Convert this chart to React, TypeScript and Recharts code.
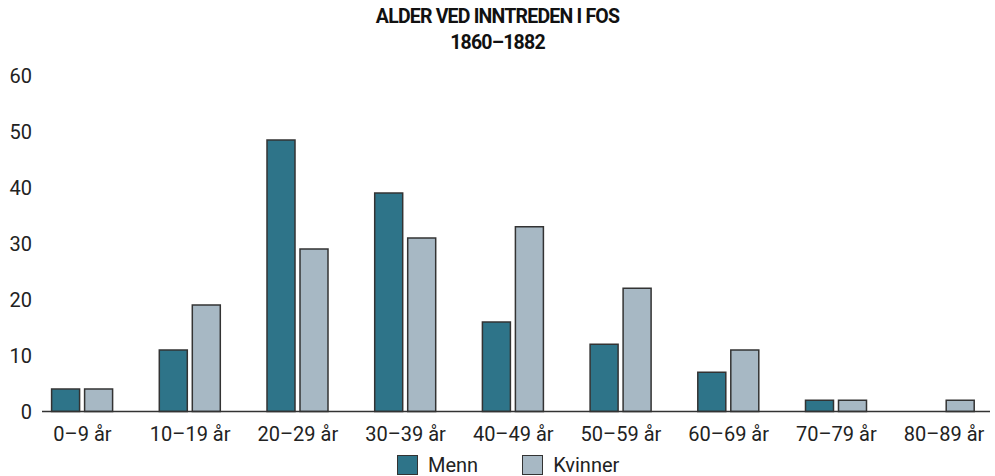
import { BarChart, Bar, XAxis, YAxis } from 'recharts';

const ageGroups = ['0–9 år', '10–19 år', '20–29 år', '30–39 år', '40–49 år', '50–59 år', '60–69 år', '70–79 år', '80–89 år'];
const menn = [4, 11, 48.5, 39, 16, 12, 7, 2, 0];
const kvinner = [4, 19, 29, 31, 33, 22, 11, 2, 2];
const yTicks = [0, 10, 20, 30, 40, 50, 60];

const MENN_COLOR = '#2e7489';
const KVINNER_COLOR = '#a7b8c4';
const STROKE = '#333333';
const FONT = 'Roboto, "Liberation Sans", sans-serif';

const data = ageGroups.map((group, i) => ({
  group,
  Menn: menn[i],
  Kvinner: kvinner[i]
}));

const LegendItem = ({ color, label, gap }: { color: string; label: string; gap: number }) => (
  <div style={{ display: 'flex', alignItems: 'center', marginRight: gap }}>
    <div
      style={{
        width: 21,
        height: 20,
        background: color,
        border: `1.5px solid ${STROKE}`,
        boxSizing: 'border-box',
        marginRight: 10
      }}
    />
    <span style={{ fontSize: 20, color: '#222' }}>{label}</span>
  </div>
);

const App = () => {
  return (
    <div
      style={{
        position: 'absolute',
        left: 0,
        top: 0,
        width: 995,
        height: 476,
        background: '#fff',
        fontFamily: FONT
      }}
    >
      <div
        style={{
          position: 'absolute',
          top: 4,
          left: 0,
          width: 995,
          textAlign: 'center',
          fontWeight: 700,
          fontSize: 19.5,
          lineHeight: '26px',
          letterSpacing: -0.8,
          color: '#111'
        }}
      >
        <div>ALDER VED INNTREDEN I FOS</div>
        <div>1860–1882</div>
      </div>

      <BarChart
        width={995}
        height={476}
        data={data}
        margin={{ top: 75.5, right: 5, bottom: 24.5, left: 0 }}
        barSize={28}
        barGap={5}
      >
        <XAxis
          dataKey="group"
          padding={{ left: -13.4, right: -7.9 }}
          axisLine={{ stroke: STROKE, strokeWidth: 1.5 }}
          tickLine={false}
          tickSize={0}
          tickMargin={15}
          height={40}
          interval={0}
          tick={{ fill: '#222', fontSize: 20, fontFamily: FONT }}
        />
        <YAxis
          domain={[0, 60]}
          ticks={yTicks}
          width={42}
          axisLine={false}
          tickLine={false}
          tickSize={0}
          tickMargin={10}
          tick={{ fill: '#222', fontSize: 20, fontFamily: FONT }}
        />
        <Bar dataKey="Menn" fill={MENN_COLOR} stroke={STROKE} strokeWidth={1.5} isAnimationActive={false} />
        <Bar dataKey="Kvinner" fill={KVINNER_COLOR} stroke={STROKE} strokeWidth={1.5} isAnimationActive={false} />
      </BarChart>

      <div
        style={{
          position: 'absolute',
          top: 453,
          left: 397,
          display: 'flex',
          alignItems: 'center',
          fontFamily: FONT
        }}
      >
        <LegendItem color={MENN_COLOR} label="Menn" gap={44} />
        <LegendItem color={KVINNER_COLOR} label="Kvinner" gap={0} />
      </div>
    </div>
  );
};

export default App;
